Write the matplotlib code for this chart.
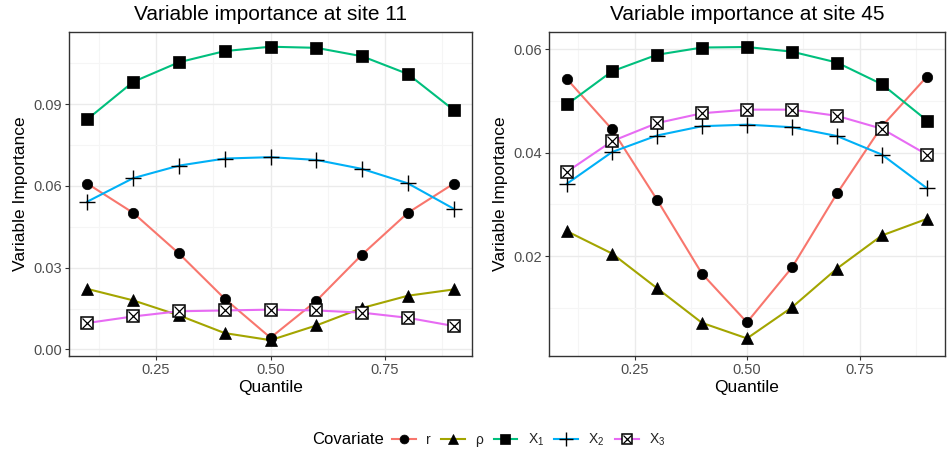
import numpy as np
import matplotlib
matplotlib.use("Agg")
import matplotlib.pyplot as plt
from matplotlib.lines import Line2D
from matplotlib.legend_handler import HandlerTuple
from matplotlib.ticker import MultipleLocator

plt.rcParams["font.family"] = ["Liberation Sans", "DejaVu Sans"]
plt.rcParams["mathtext.fontset"] = "custom"
plt.rcParams["mathtext.rm"] = "Liberation Sans"

quantile = [0.1, 0.2, 0.3, 0.4, 0.5, 0.6, 0.7, 0.8, 0.9]

# site 11
s11_r = [0.0608, 0.0501, 0.0352, 0.0186, 0.0043, 0.0178, 0.0348, 0.0501, 0.0608]
s11_rho = [0.0222, 0.0180, 0.0125, 0.0060, 0.0034, 0.0088, 0.0152, 0.0197, 0.0220]
s11_x1 = [0.0844, 0.0981, 0.1053, 0.1094, 0.1110, 0.1106, 0.1075, 0.1010, 0.0878]
s11_x2 = [0.0542, 0.0628, 0.0674, 0.0700, 0.0705, 0.0695, 0.0662, 0.0609, 0.0516]
s11_x3 = [0.0097, 0.0121, 0.0140, 0.0143, 0.0146, 0.0143, 0.0135, 0.0116, 0.0086]

# site 45
s45_r = [0.0542, 0.0445, 0.0309, 0.0166, 0.0072, 0.0178, 0.0321, 0.0451, 0.0547]
s45_rho = [0.0248, 0.0205, 0.0138, 0.0071, 0.0041, 0.0101, 0.0176, 0.0240, 0.0272]
s45_x1 = [0.0493, 0.0557, 0.0589, 0.0603, 0.0604, 0.0595, 0.0574, 0.0532, 0.0462]
s45_x2 = [0.0340, 0.0401, 0.0433, 0.0451, 0.0454, 0.0449, 0.0432, 0.0396, 0.0331]
s45_x3 = [0.0363, 0.0422, 0.0457, 0.0476, 0.0483, 0.0483, 0.0471, 0.0446, 0.0396]

labels = ["r", "ρ", r"$\mathrm{X}_1$", r"$\mathrm{X}_2$", r"$\mathrm{X}_3$"]
colors = ["#F8766D", "#A3A500", "#00BF7D", "#00B0F6", "#E76BF3"]

GRID_MAJ, GRID_MIN, TXT = "#EBEBEB", "#F5F5F5", "#4D4D4D"

# marker styles per covariate (the last one is a square with an x inside)
STYLES = [
    [dict(marker="o", ms=7.5, mfc="black", mec="black", mew=0.5)],
    [dict(marker="^", ms=9, mfc="black", mec="black", mew=0.5)],
    [dict(marker="s", ms=8.2, mfc="black", mec="black", mew=0.5)],
    [dict(marker="+", ms=12, mfc="black", mec="black", mew=1.0)],
    [dict(marker="s", ms=8.0, mfc="white", mec="black", mew=1.1),
     dict(marker="x", ms=7.0, mfc="black", mec="black", mew=0.9)],
]

fig = plt.figure(figsize=(9.47, 4.57), dpi=100)
ax1 = fig.add_axes([69 / 947, 1 - 356 / 457, 403 / 947, 324 / 457])
ax2 = fig.add_axes([549 / 947, 1 - 356 / 457, 396 / 947, 324 / 457])


def draw(ax, series, title, ylim, ymaj, ymin):
    for vals, c, st in zip(series, colors, STYLES):
        ax.plot(quantile, vals, "-", color=c, lw=1.5, zorder=2)
        for s in st:
            ax.plot(quantile, vals, ls="none", zorder=3, **s)
    ax.set_title(title, fontsize=15, pad=9)
    ax.set_xlim(0.06, 0.94)
    ax.set_ylim(*ylim)
    ax.set_xticks([0.25, 0.50, 0.75])
    ax.set_xticklabels(["0.25", "0.50", "0.75"])
    ax.xaxis.set_minor_locator(MultipleLocator(0.125))
    ax.yaxis.set_major_locator(MultipleLocator(ymaj))
    ax.yaxis.set_minor_locator(MultipleLocator(ymin))
    ax.yaxis.set_major_formatter(plt.FuncFormatter(lambda v, p: f"{v:.2f}"))
    ax.grid(True, which="major", color=GRID_MAJ, lw=1.0)
    ax.grid(True, which="minor", color=GRID_MIN, lw=0.8)
    ax.set_axisbelow(True)
    ax.tick_params(which="major", length=3, color="#333333", labelsize=10.5,
                   labelcolor=TXT, pad=2)
    ax.tick_params(which="minor", length=0)
    for s in ax.spines.values():
        s.set_color("#333333")
        s.set_linewidth(1.0)
    ax.set_xlabel("Quantile", fontsize=12.5, labelpad=2)
    ax.set_ylabel("Variable Importance", fontsize=12.5, labelpad=4)


draw(ax1, [s11_r, s11_rho, s11_x1, s11_x2, s11_x3],
     "Variable importance at site 11", (-0.0024, 0.1164), 0.03, 0.015)
draw(ax2, [s45_r, s45_rho, s45_x1, s45_x2, s45_x3],
     "Variable importance at site 45", (0.0007, 0.0633), 0.02, 0.01)

handles = []
for c, st in zip(colors, STYLES):
    parts = [Line2D([0], [0], color=c, lw=1.5)]
    for s in st:
        d = dict(s)
        d["ms"] = d["ms"] * 0.85
        parts.append(Line2D([0], [0], ls="none", **d))
    handles.append(tuple(parts))

fig.text(384 / 947, 1 - 440 / 457, "Covariate", ha="right", va="center", fontsize=12)
fig.legend(handles, labels, loc="center left", bbox_to_anchor=(392 / 947, 1 - 440 / 457),
           ncol=5, frameon=False, fontsize=10, labelcolor="#222222",
           handlelength=1.7, handletextpad=0.75, columnspacing=0.75,
           borderaxespad=0, borderpad=0,
           handler_map={tuple: HandlerTuple(ndivide=1, pad=0)})

fig.savefig("out.png", dpi=100, facecolor="white")
